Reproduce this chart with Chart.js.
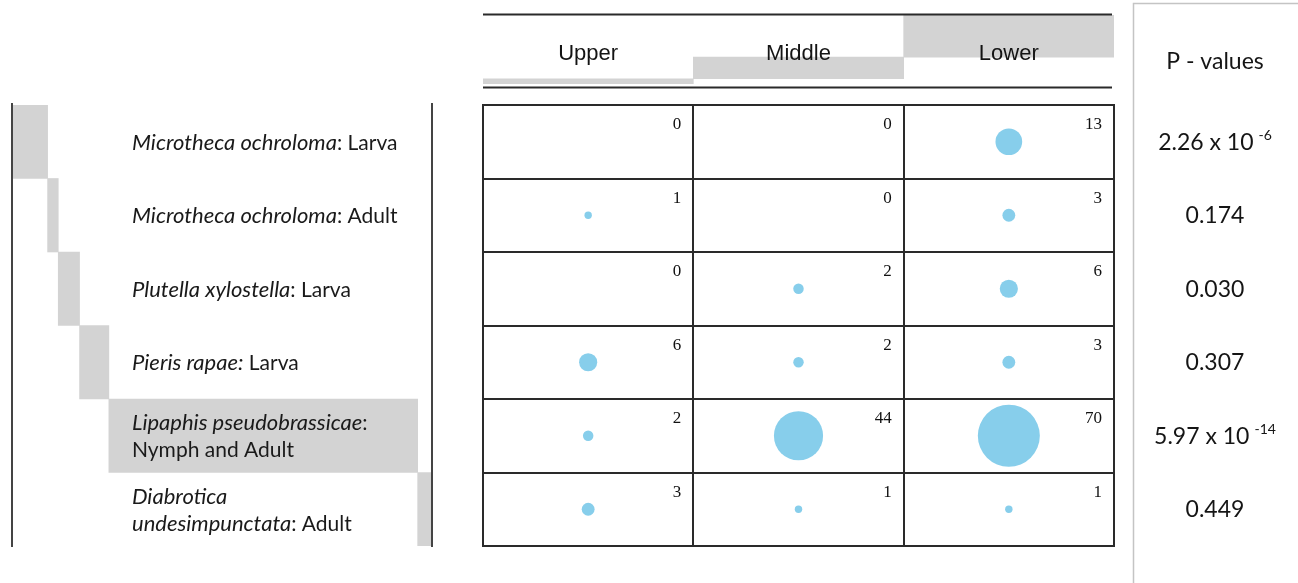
<!DOCTYPE html>
<html>
<head>
<meta charset="utf-8">
<script src="https://cdn.jsdelivr.net/npm/chart.js@4/dist/chart.umd.min.js"></script>
<style>
  html, body { margin: 0; padding: 0; background: #ffffff; }
  #wrap { position: relative; width: 1298px; height: 583px; overflow: hidden; }
  canvas { position: absolute; }
  #main { left: 0; top: 0; }
  #top { left: 481px; top: 0; }
  #left { left: 0; top: 0; }
</style>
</head>
<body>
<div id="wrap">
  <canvas id="main" width="1298" height="583"></canvas>
  <canvas id="top" width="635" height="100"></canvas>
  <canvas id="left" width="450" height="583"></canvas>
</div>
<script>
// Plant position classes (columns of the balloon plot)
const columns = ['Upper', 'Middle', 'Lower'];

// Insect counts per position, one entry per row below
const upperCounts  = [0, 1, 0, 6, 2, 3];
const middleCounts = [0, 0, 2, 2, 44, 1];
const lowerCounts  = [13, 3, 6, 3, 70, 1];

// Row labels: lines of [text, italic] segments
const rowLabels = [
  [[['Microtheca ochroloma', true], [': Larva', false]]],
  [[['Microtheca ochroloma', true], [': Adult', false]]],
  [[['Plutella xylostella', true], [': Larva', false]]],
  [[['Pieris rapae:', true], [' Larva', false]]],
  [[['Lipaphis pseudobrassicae', true], [':', false]], [['Nymph and Adult', false]]],
  [[['Diabrotica', true]], [['undesimpunctata', true], [': Adult', false]]]
];

// Chi-square p-values per row (mantissa + optional power of ten)
const pMantissa = ['2.26 x 10', '0.174', '0.030', '0.307', '5.97 x 10', '0.449'];
const pExponent = ['-6', '', '', '', '-14', ''];
const pHeader = 'P - values';

// ---- derived tables -------------------------------------------------------
const countCols = [upperCounts, middleCounts, lowerCounts];
const nRows = rowLabels.length;
const rowNames = rowLabels.map(lines => lines.map(l => l.map(s => s[0]).join('')).join(' '));
const rowTotals = rowLabels.map((_, r) => countCols.reduce((s, col) => s + col[r], 0));
const colTotals = countCols.map(col => col.reduce((s, v) => s + v, 0));
const grandTotal = colTotals.reduce((s, v) => s + v, 0);
const maxCount = Math.max(...countCols.flat());

function cumulativeSpans(totals) {
  let acc = 0;
  return totals.map(t => { const span = [acc, acc + t]; acc += t; return span; });
}
const colSpans = cumulativeSpans(colTotals);
const rowSpans = cumulativeSpans(rowTotals);

const BUBBLE_MAX_R = 31;          // radius of the largest balloon
const cellPoints = [];
countCols.forEach((col, c) => {
  col.forEach((v, r) => {
    cellPoints.push({ x: c, y: r, r: BUBBLE_MAX_R * Math.sqrt(v / maxCount), v: v });
  });
});

const GRID_COLOR = '#2a2a2a';
const MARGIN_GRAY = 'rgb(211, 211, 211)';
const BALLOON = 'rgb(135, 206, 235)';
const SANS = 'Lato, "Noto Sans", sans-serif';

const common = {
  responsive: false,
  animation: false,
  devicePixelRatio: 1,
  events: [],
  plugins: { legend: { display: false }, tooltip: { enabled: false } }
};

// ---- main balloon grid + counts + p-value column ---------------------------
const gridPlugin = {
  id: 'gridPlugin',
  afterDraw(chart) {
    const ctx = chart.ctx, xs = chart.scales.x, ys = chart.scales.y;
    const area = chart.chartArea;
    ctx.save();
    ctx.strokeStyle = GRID_COLOR;
    ctx.lineWidth = 2;
    for (let c = 0; c <= columns.length; c++) {
      const x = Math.round(xs.getPixelForValue(c - 0.5));
      ctx.beginPath(); ctx.moveTo(x, area.top - 1); ctx.lineTo(x, area.bottom + 1); ctx.stroke();
    }
    for (let r = 0; r <= nRows; r++) {
      const y = Math.round(ys.getPixelForValue(r - 0.5));
      ctx.beginPath(); ctx.moveTo(area.left - 1, y); ctx.lineTo(area.right + 1, y); ctx.stroke();
    }
    // counts in the upper-right corner of each cell
    ctx.fillStyle = '#111';
    ctx.font = '17px "Liberation Serif", "Times New Roman", serif';
    ctx.textAlign = 'right';
    ctx.textBaseline = 'alphabetic';
    cellPoints.forEach(p => {
      const x = xs.getPixelForValue(p.x + 0.5) - 12;
      const y = ys.getPixelForValue(p.y - 0.5) + 24;
      ctx.fillText(String(p.v), x, y);
    });

    // p-value column with its frame
    const cx = area.right + 101;
    ctx.strokeStyle = '#c4c4c4';
    ctx.lineWidth = 1.5;
    ctx.beginPath();
    ctx.moveTo(chart.width, 3.5);
    ctx.lineTo(area.right + 19.5, 3.5);
    ctx.lineTo(area.right + 19.5, chart.height);
    ctx.stroke();

    ctx.fillStyle = '#151515';
    ctx.textAlign = 'left';
    ctx.font = '23px ' + SANS;
    const hw = ctx.measureText(pHeader).width;
    ctx.fillText(pHeader, cx - hw / 2, 69);

    pMantissa.forEach((m, r) => {
      const yc = ys.getPixelForValue(r);
      ctx.font = '23px ' + SANS;
      const w1 = ctx.measureText(m).width;
      let w2 = 0, gap = 0;
      if (pExponent[r]) {
        ctx.font = '14px ' + SANS;
        w2 = ctx.measureText(pExponent[r]).width;
        gap = 5;
      }
      const x0 = cx - (w1 + gap + w2) / 2;
      const base = yc + 8;
      ctx.font = '23px ' + SANS;
      ctx.fillText(m, x0, base);
      if (pExponent[r]) {
        ctx.font = '14px ' + SANS;
        ctx.fillText(pExponent[r], x0 + w1 + gap, base - 10);
      }
    });
    ctx.restore();
  }
};

new Chart(document.getElementById('main'), {
  type: 'bubble',
  data: {
    datasets: [{
      data: cellPoints,
      backgroundColor: BALLOON,
      borderWidth: 0,
      hoverRadius: 0
    }]
  },
  options: Object.assign({}, common, {
    layout: { padding: { left: 483, right: 184, top: 105, bottom: 37 } },
    scales: {
      x: { type: 'linear', min: -0.5, max: columns.length - 0.5, display: false },
      y: { type: 'linear', min: -0.5, max: nRows - 0.5, reverse: true, display: false }
    }
  }),
  plugins: [gridPlugin]
});

// ---- column margins (header) -----------------------------------------------
const headerPlugin = {
  id: 'headerPlugin',
  afterDraw(chart) {
    const ctx = chart.ctx, xs = chart.scales.x, area = chart.chartArea;
    ctx.save();
    ctx.strokeStyle = GRID_COLOR;
    ctx.lineWidth = 2;
    ctx.beginPath(); ctx.moveTo(area.left, area.top - 0.5); ctx.lineTo(area.right - 2, area.top - 0.5); ctx.stroke();
    ctx.beginPath(); ctx.moveTo(area.left, area.bottom + 3.5); ctx.lineTo(area.right - 2, area.bottom + 3.5); ctx.stroke();
    ctx.fillStyle = '#141414';
    ctx.font = '22px "Liberation Sans", Arial, sans-serif';
    ctx.textAlign = 'center';
    ctx.textBaseline = 'alphabetic';
    columns.forEach((name, i) => {
      ctx.fillText(name, xs.getPixelForValue(i), 60);
    });
    ctx.restore();
  }
};

new Chart(document.getElementById('top'), {
  type: 'bar',
  data: {
    labels: columns,
    datasets: [{
      data: colSpans,
      backgroundColor: MARGIN_GRAY,
      borderWidth: 0,
      barPercentage: 1,
      categoryPercentage: 1
    }]
  },
  options: Object.assign({}, common, {
    layout: { padding: { left: 2, right: 2, top: 15, bottom: 16 } },
    scales: {
      x: { display: false },
      y: { display: false, min: 0, max: grandTotal }
    }
  }),
  plugins: [headerPlugin]
});

// ---- row margins with species labels ---------------------------------------
const rowLabelPlugin = {
  id: 'rowLabelPlugin',
  afterDraw(chart) {
    const ctx = chart.ctx, ys = chart.scales.y, area = chart.chartArea;
    ctx.save();
    ctx.strokeStyle = '#444';
    ctx.lineWidth = 2;
    [area.left - 1, area.right + 1].forEach(x => {
      ctx.beginPath(); ctx.moveTo(x, area.top - 2); ctx.lineTo(x, area.bottom + 1); ctx.stroke();
    });
    ctx.fillStyle = '#1a1a1a';
    ctx.textAlign = 'left';
    ctx.textBaseline = 'middle';
    const lineGap = 27;
    rowLabels.forEach((lines, r) => {
      const yc = ys.getPixelForValue(r) + 1;
      const y0 = yc - (lines.length - 1) * lineGap / 2;
      lines.forEach((segs, li) => {
        let x = 132;
        segs.forEach(([text, italic]) => {
          ctx.font = italic ? 'italic 22px ' + SANS : '21px ' + SANS;
          ctx.fillText(text, x, y0 + li * lineGap);
          x += ctx.measureText(text).width;
        });
      });
    });
    ctx.restore();
  }
};

new Chart(document.getElementById('left'), {
  type: 'bar',
  data: {
    labels: rowNames,
    datasets: [{
      data: rowSpans,
      backgroundColor: MARGIN_GRAY,
      borderWidth: 0,
      barPercentage: 1,
      categoryPercentage: 1
    }]
  },
  options: Object.assign({}, common, {
    indexAxis: 'y',
    layout: { padding: { left: 13, right: 19, top: 105, bottom: 37 } },
    scales: {
      x: { display: false, min: 0, max: grandTotal },
      y: { display: false }
    }
  }),
  plugins: [rowLabelPlugin]
});
</script>
</body>
</html>
